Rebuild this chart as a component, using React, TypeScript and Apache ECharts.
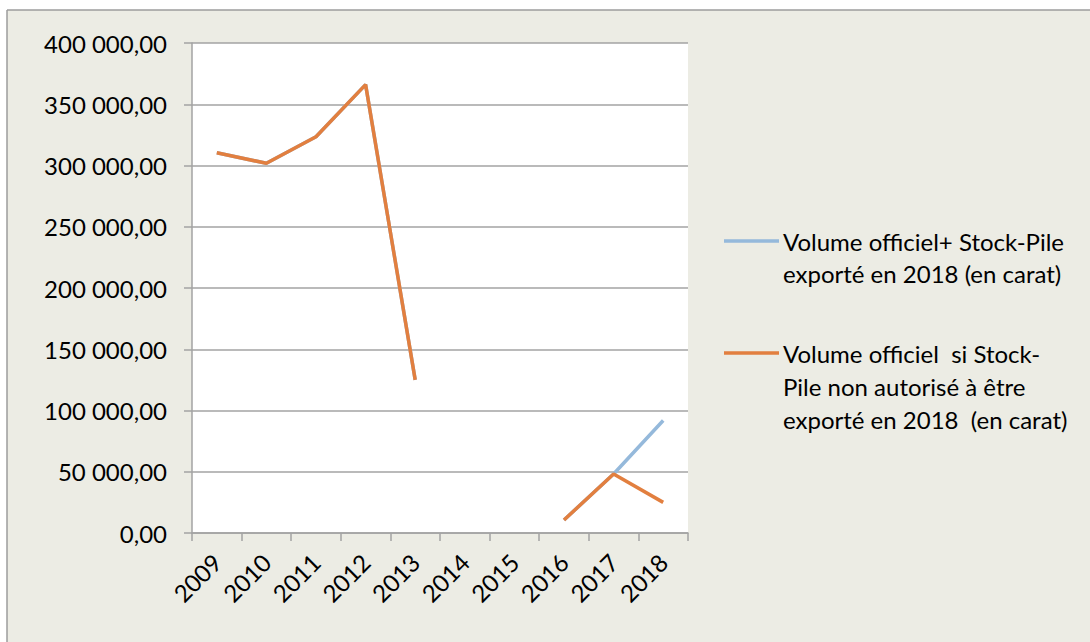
import React, { useEffect, useRef } from "react";
import * as echarts from "echarts";

const categories = ["2009", "2010", "2011", "2012", "2013", "2014", "2015", "2016", "2017", "2018"];
const officialPlusStock: (number | null)[] = [310400, 301800, 323500, 366000, 125000, null, null, 10600, 48200, 91800];
const officialOnly: (number | null)[] = [310400, 301800, 323500, 366000, 125000, null, null, 10600, 48200, 25000];
const seriesNames = [
  "Volume officiel+ Stock-Pile\nexporté en 2018 (en carat)",
  "Volume officiel  si Stock-\nPile non autorisé à être\nexporté en 2018  (en carat)",
];
const colors = ["#95B9DB", "#E27F3F"];

const FONT = "Lato, 'Noto Sans', sans-serif";

function fmt(v: number): string {
  const fixed = v.toFixed(2);
  const [intPart, dec] = fixed.split(".");
  const withSpaces = intPart.replace(/\B(?=(\d{3})+(?!\d))/g, " ");
  return withSpaces + "," + dec;
}

export default function App() {
  const ref = useRef<HTMLDivElement>(null);
  useEffect(() => {
    if (!ref.current) return;
    const chart = echarts.init(ref.current, undefined, { renderer: "svg" });
    const axisColor = "#A3A3A3";
    chart.setOption({
      animation: false,
      backgroundColor: "#FFFFFF",
      grid: { left: 192, top: 43, right: 402, bottom: 109, containLabel: false, backgroundColor: "#FFFFFF", show: true, borderWidth: 0 },
      graphic: [
        { type: "rect", z: -10, shape: { x: 7, y: 10, width: 1083, height: 632 }, style: { fill: "#ECECE4" } },
        { type: "line", z: -9, shape: { x1: 7, y1: 10, x2: 1090, y2: 10 }, style: { stroke: "#9C9C9C", lineWidth: 1.5 } },
        { type: "line", z: -9, shape: { x1: 7, y1: 10, x2: 7, y2: 642 }, style: { stroke: "#9C9C9C", lineWidth: 1.5 } },
        { type: "line", shape: { x1: 724, y1: 241, x2: 779, y2: 241 }, style: { stroke: colors[0], lineWidth: 3.5 } },
        {
          type: "text", x: 783, y: 225,
          style: { text: seriesNames[0], font: `24px ${FONT}`, fill: "#000", lineHeight: 32, verticalAlign: "top" },
        },
        { type: "line", shape: { x1: 724, y1: 353, x2: 779, y2: 353 }, style: { stroke: colors[1], lineWidth: 3.5 } },
        {
          type: "text", x: 783, y: 337,
          style: { text: seriesNames[1], font: `24px ${FONT}`, fill: "#000", lineHeight: 33, verticalAlign: "top" },
        },
      ],
      xAxis: {
        type: "category",
        data: categories,
        boundaryGap: true,
        axisLine: { lineStyle: { color: axisColor, width: 1.5 } },
        axisTick: { show: true, length: 8, interval: 0, lineStyle: { color: axisColor, width: 1.5 } },
        axisLabel: { rotate: 45, margin: 25, interval: 0, color: "#000", fontFamily: FONT, fontSize: 24 },
        splitLine: { show: false },
      },
      yAxis: {
        type: "value",
        min: 0,
        max: 400000,
        interval: 50000,
        axisLine: { show: true, lineStyle: { color: axisColor, width: 1.5 } },
        axisTick: { show: true, length: 8, lineStyle: { color: axisColor, width: 1.5 } },
        axisLabel: { margin: 25, color: "#000", fontFamily: FONT, fontSize: 24, formatter: (v: number) => fmt(v) },
        splitLine: { show: true, lineStyle: { color: axisColor, width: 1.5 } },
      },
      series: [
        {
          name: seriesNames[0], type: "line", data: officialPlusStock, connectNulls: false,
          showSymbol: false, symbol: "none", lineStyle: { color: colors[0], width: 3.5 }, itemStyle: { color: colors[0] }, z: 2,
        },
        {
          name: seriesNames[1], type: "line", data: officialOnly, connectNulls: false,
          showSymbol: false, symbol: "none", lineStyle: { color: colors[1], width: 3.5 }, itemStyle: { color: colors[1] }, z: 3,
        },
      ],
    });
    return () => chart.dispose();
  }, []);
  return <div ref={ref} style={{ position: "fixed", left: 0, top: 0, width: 1090, height: 642 }} />;
}
